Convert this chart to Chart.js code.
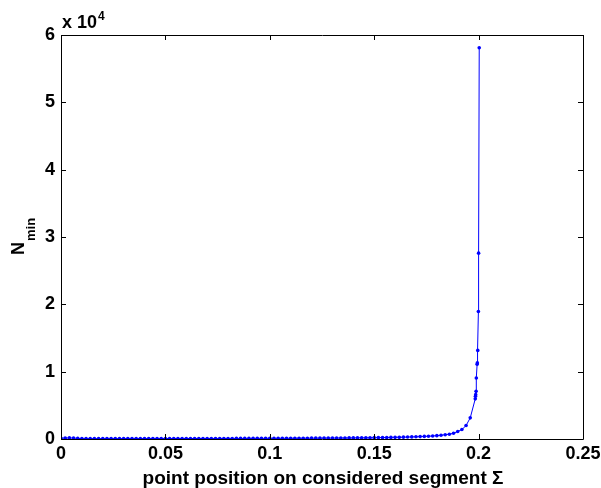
<!DOCTYPE html>
<html>
<head>
<meta charset="utf-8">
<script src="https://cdn.jsdelivr.net/npm/chart.js@4.4.1/dist/chart.umd.min.js"></script>
<style>
  body { margin: 0; background: #fff; }
  canvas { display: block; }
</style>
</head>
<body>
<canvas id="nmin-chart" width="601" height="488"></canvas>
<script>
// point positions on the segment (regular grid, then the dense points close to 0.2)
var positions = [
  0.000, 0.002, 0.004, 0.006, 0.008, 0.010, 0.012, 0.014, 0.016, 0.018,
  0.020, 0.022, 0.024, 0.026, 0.028, 0.030, 0.032, 0.034, 0.036, 0.038,
  0.040, 0.042, 0.044, 0.046, 0.048, 0.050, 0.052, 0.054, 0.056, 0.058,
  0.060, 0.062, 0.064, 0.066, 0.068, 0.070, 0.072, 0.074, 0.076, 0.078,
  0.080, 0.082, 0.084, 0.086, 0.088, 0.090, 0.092, 0.094, 0.096, 0.098,
  0.100, 0.102, 0.104, 0.106, 0.108, 0.110, 0.112, 0.114, 0.116, 0.118,
  0.120, 0.122, 0.124, 0.126, 0.128, 0.130, 0.132, 0.134, 0.136, 0.138,
  0.140, 0.142, 0.144, 0.146, 0.148, 0.150, 0.152, 0.154, 0.156, 0.158,
  0.160, 0.162, 0.164, 0.166, 0.168, 0.170, 0.172, 0.174, 0.176, 0.178,
  0.180, 0.182, 0.184, 0.186, 0.188, 0.190, 0.192, 0.194, 0.196,
  0.1984, 0.1985, 0.1986, 0.1988, 0.1989, 0.1993, 0.1994, 0.1996, 0.1999, 0.2000, 0.2003
];
// N_min
var nMin = [
  120, 150, 165, 140, 95, 60, 54, 54, 55, 55,
  56, 56, 57, 57, 58, 59, 60, 60, 61, 62,
  62, 63, 64, 65, 66, 67, 68, 69, 70, 70,
  71, 72, 74, 75, 76, 77, 78, 80, 81, 82,
  83, 85, 86, 88, 89, 91, 93, 94, 96, 98,
  100, 102, 104, 106, 109, 111, 114, 116, 119, 122,
  125, 128, 132, 135, 139, 143, 147, 152, 156, 161,
  167, 172, 179, 185, 192, 200, 208, 217, 227, 238,
  250, 263, 278, 294, 313, 333, 357, 385, 417, 455,
  500, 560, 640, 710, 860, 1110, 1400, 2000, 3140,
  5960, 6340, 6590, 7080, 9060, 11100, 11300, 13160, 18930, 27600, 58100
];
var xTicks = [0, 0.05, 0.1, 0.15, 0.2, 0.25];
var yTicks = [0, 10000, 20000, 30000, 40000, 50000, 60000];
var xTitle = "point position on considered segment \u03A3";

var FONT = "'Liberation Sans', Arial, Helvetica, sans-serif";

var points = [];
for (var i = 0; i < positions.length; i++) {
  points.push({ x: positions[i], y: nMin[i] });
}

// matlab style box with inward ticks + the extra texts
var matlabAxes = {
  id: 'matlabAxes',
  afterDraw: function(chart) {
    var ctx = chart.ctx;
    var a = chart.chartArea;
    var xs = chart.scales.x, ys = chart.scales.y;
    var tl = 5;
    ctx.save();
    ctx.strokeStyle = '#000';
    ctx.lineWidth = 1;
    ctx.beginPath();
    ctx.rect(Math.round(a.left) + 0.5, Math.round(a.top) + 0.5,
             Math.round(a.right - a.left), Math.round(a.bottom - a.top));
    xTicks.forEach(function(v) {
      var px = Math.round(xs.getPixelForValue(v)) + 0.5;
      ctx.moveTo(px, a.bottom); ctx.lineTo(px, a.bottom - tl);
      ctx.moveTo(px, a.top); ctx.lineTo(px, a.top + tl);
    });
    yTicks.forEach(function(v) {
      var py = Math.round(ys.getPixelForValue(v)) + 0.5;
      ctx.moveTo(a.left, py); ctx.lineTo(a.left + tl, py);
      ctx.moveTo(a.right, py); ctx.lineTo(a.right - tl, py);
    });
    ctx.stroke();

    ctx.fillStyle = '#000';
    ctx.textBaseline = 'alphabetic';
    // x10^4 multiplier
    ctx.textAlign = 'left';
    ctx.font = 'bold 18px ' + FONT;
    ctx.fillText('x 10', a.left + 1, a.top - 7);
    var w = ctx.measureText('x 10').width;
    ctx.font = 'bold 12px ' + FONT;
    ctx.fillText('4', a.left + 2 + w, a.top - 15);

    // x title
    ctx.textAlign = 'center';
    ctx.font = 'bold 19px ' + FONT;
    ctx.fillText(xTitle, (a.left + a.right) / 2 + 1, 484);

    // y title N_min rotated
    ctx.translate(24, 255);
    ctx.rotate(-Math.PI / 2);
    ctx.textAlign = 'left';
    ctx.font = 'bold 18px ' + FONT;
    ctx.fillText('N', 0, 0);
    var nw = ctx.measureText('N').width;
    ctx.font = 'bold 13px ' + FONT;
    ctx.fillText('min', nw + 1, 11);
    ctx.restore();
  }
};

var nminChart = new Chart(document.getElementById('nmin-chart'), {
  type: 'scatter',
  data: {
    datasets: [{
      data: points,
      showLine: true,
      borderColor: '#0000ff',
      borderWidth: 1,
      backgroundColor: '#0000ff',
      pointRadius: 1.8,
      pointBorderWidth: 0,
      pointBackgroundColor: '#0000ff',
      tension: 0
    }]
  },
  options: {
    responsive: false,
    animation: false,
    layout: { padding: { left: 0, right: 18, top: 35, bottom: 0 } },
    plugins: { legend: { display: false }, tooltip: { enabled: false } },
    scales: {
      x: {
        type: 'linear',
        min: 0,
        max: 0.25,
        grid: { display: false, drawTicks: false },
        border: { display: false },
        afterBuildTicks: function(scale) {
          scale.ticks = xTicks.map(function(v) { return { value: v }; });
        },
        afterFit: function(scale) {
          scale.height = 49;
          scale.paddingLeft = 0;
          scale.paddingRight = 0;
        },
        ticks: {
          color: '#000',
          padding: 4,
          maxRotation: 0,
          font: { family: FONT, size: 18, weight: 'bold' },
          callback: function(v) { return String(+v.toFixed(2)); }
        }
      },
      y: {
        min: 0,
        max: 60000,
        grid: { display: false, drawTicks: false },
        border: { display: false },
        afterBuildTicks: function(scale) {
          scale.ticks = yTicks.map(function(v) { return { value: v }; });
        },
        afterFit: function(scale) {
          scale.width = 61;
          scale.paddingTop = 0;
          scale.paddingBottom = 0;
        },
        ticks: {
          color: '#000',
          padding: 6,
          font: { family: FONT, size: 18, weight: 'bold' },
          callback: function(v) { return String(v / 10000); }
        }
      }
    }
  },
  plugins: [matlabAxes]
});
</script>
</body>
</html>
